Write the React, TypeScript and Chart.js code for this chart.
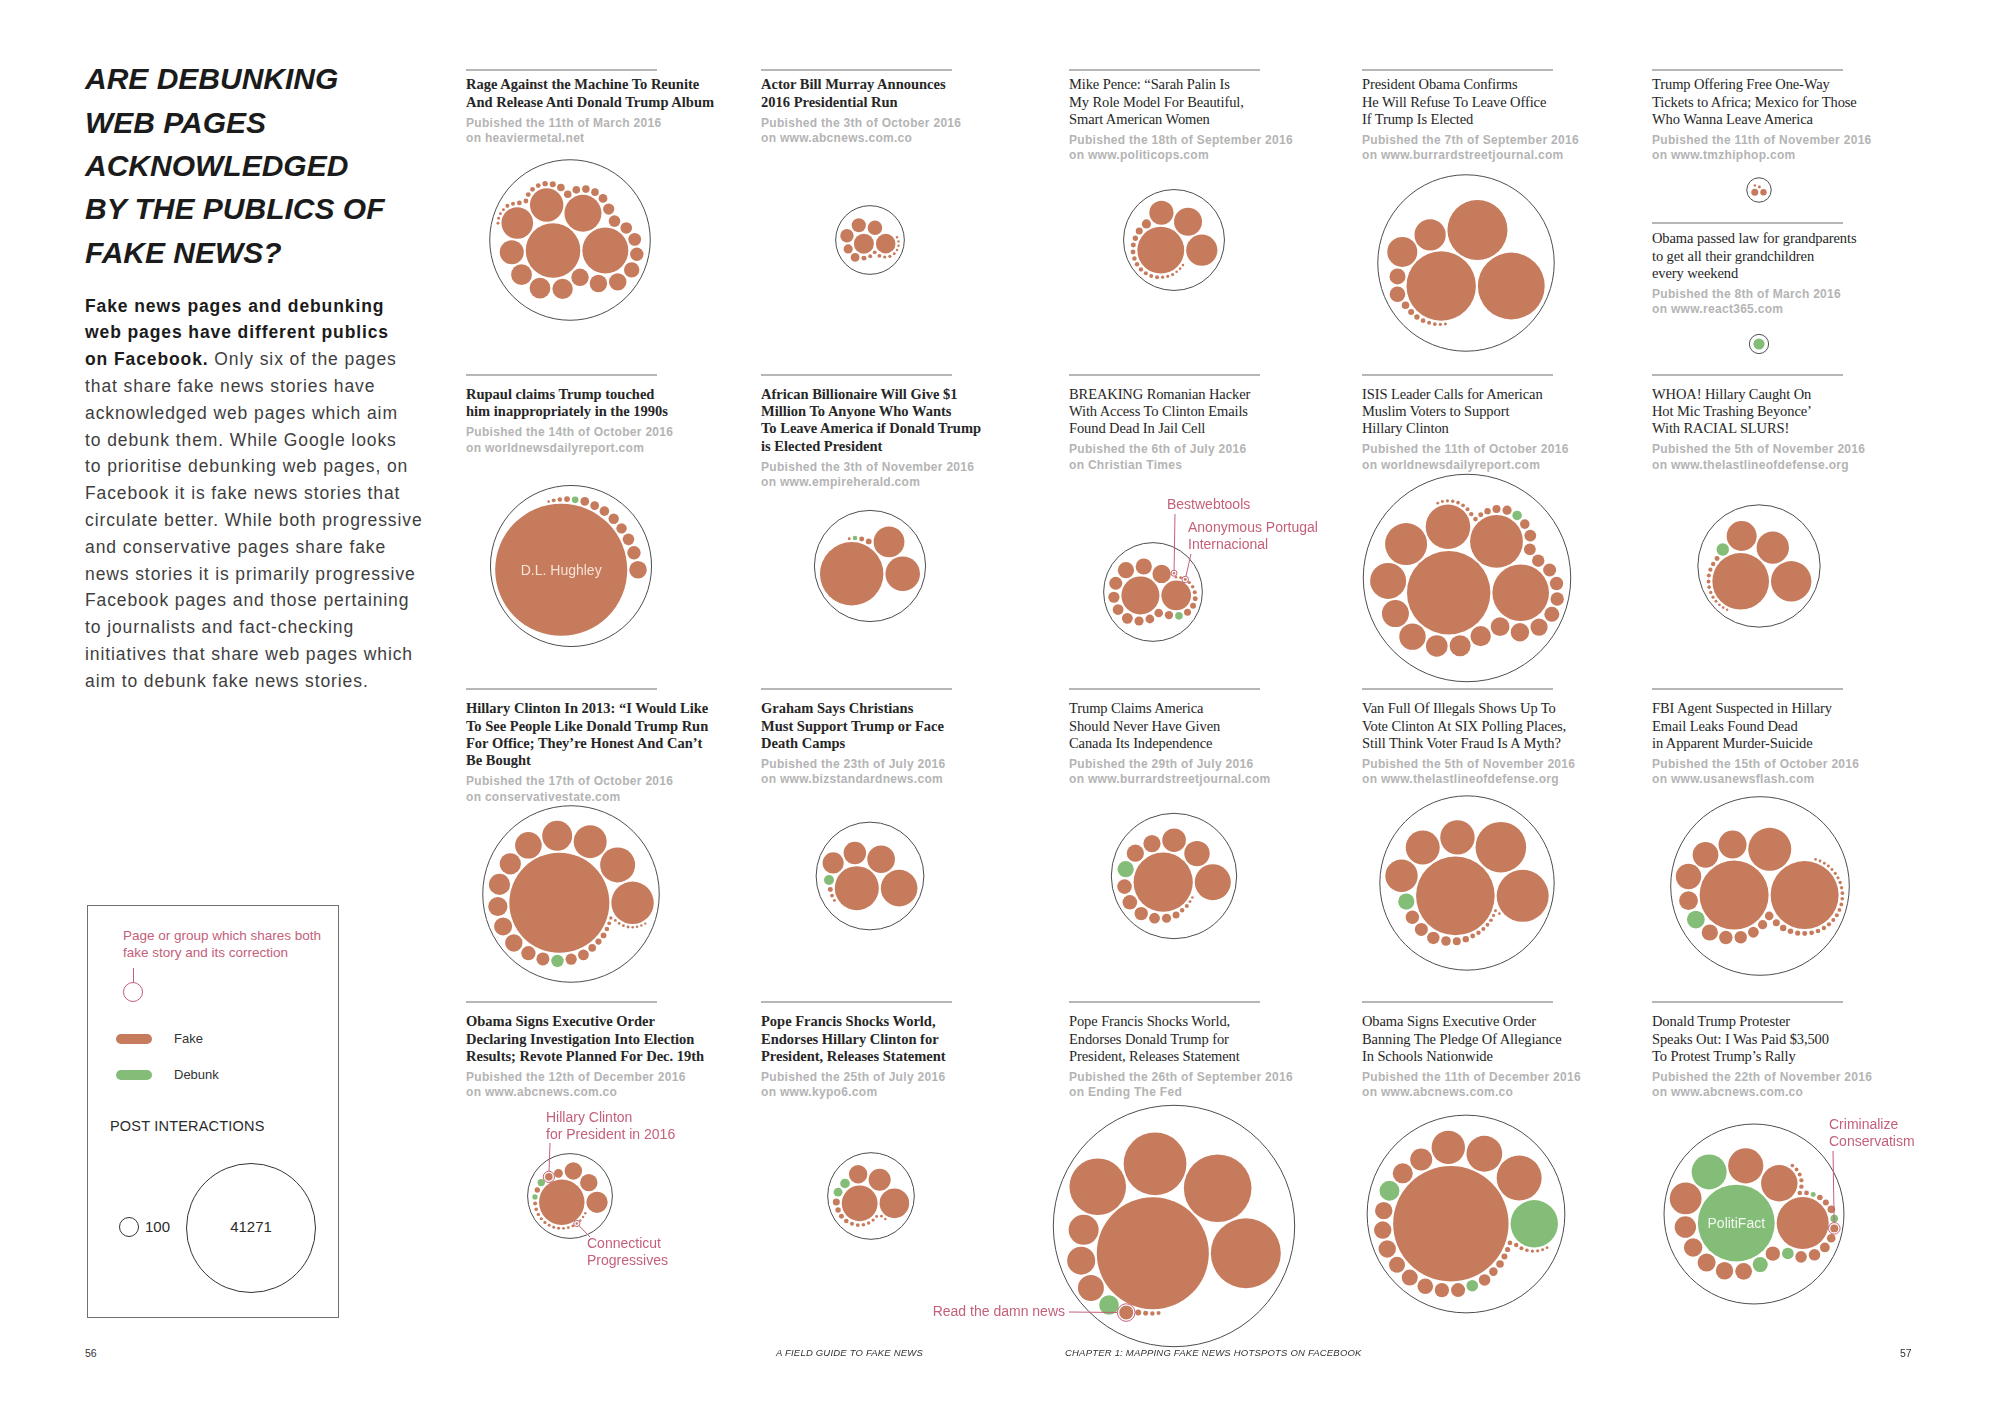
import React, { useEffect, useRef } from 'react';
import { Chart, registerables } from 'chart.js';
Chart.register(...registerables);

// ---------------- DATA: post interactions of each Facebook page / group ----------------
const rageFake = [7058, 5010, 3241, 2641, 2364, 1364, 1024, 1024, 985, 717, 717, 717, 561, 425, 388, 319, 319, 297, 183, 137, 137, 137, 137, 137, 85, 69, 55, 55, 55, 55, 55, 38, 38, 21, 21, 21, 21];
const rageDebunk: number[] = [];
const murrayFake = [947, 910, 505, 477, 425, 200, 183, 59, 38, 34, 34, 24, 24, 21, 14, 14, 14, 14];
const murrayDebunk: number[] = [];
const penceFake = [5185, 2305, 1856, 1386, 200, 116, 69, 59, 55, 46, 46, 46, 38, 38, 38, 24, 24, 24, 16, 16, 16];
const penceDebunk: number[] = [];
const obamaOfficeFake = [11403, 10564, 8523, 2305, 2131, 606, 576, 137, 85, 69, 55, 38, 34, 24, 21];
const obamaOfficeDebunk: number[] = [];
const oneWayFake = [116, 97, 21, 14];
const oneWayDebunk: number[] = [];
const grandparentsFake: number[] = [];
const grandparentsDebunk = [297];
const rupaulFake = [41271, 733, 425, 319, 256, 256, 218, 183, 183, 80, 50, 34, 16];
const rupaulDebunk = [103];
const billionaireFake = [9516, 2834, 2246, 80, 59, 21];
const billionaireDebunk = [50];
const hackerFake = [3419, 2074, 802, 621, 621, 400, 297, 276, 276, 200, 183, 175, 167, 116, 85, 59, 38, 31, 24, 21, 19, 16, 14];
const hackerDebunk = [137];
const isisFake = [16467, 7585, 6600, 4709, 4176, 3068, 1726, 1650, 1105, 1044, 985, 837, 802, 700, 533, 425, 425, 400, 364, 330, 330, 218, 200, 152, 97, 59, 50, 46, 38, 34, 31, 27, 24, 21, 19];
const isisDebunk = [215];
const whoaFake = [7585, 3864, 2485, 2131, 59, 46, 42, 38, 34, 31, 27, 24, 21, 19, 16, 14];
const whoaDebunk = [364];
const clinton2013Fake = [23674, 4256, 2900, 2578, 2131, 1675, 1064, 1064, 873, 767, 717, 477, 400, 297, 276, 137, 91, 80, 50, 34, 27, 19, 19, 19, 19, 14, 14, 14, 14];
const clinton2013Debunk = [364];
const grahamFake = [4584, 3171, 1803, 1188, 1064, 59, 34, 21];
const grahamDebunk = [237];
const canadaFake = [8297, 3068, 1527, 1319, 700, 700, 505, 505, 425, 276, 200, 116, 46, 38, 21, 16];
const canadaDebunk = [621];
const vanFake = [14627, 6402, 6062, 2802, 2737, 2485, 425, 400, 364, 218, 152, 97, 55, 46, 38, 34, 31, 24, 21, 16];
const vanDebunk = [621];
const fbiFake = [11272, 10947, 4378, 1856, 1576, 1527, 837, 621, 425, 364, 276, 200, 175, 116, 97, 74, 64, 59, 55, 50, 46, 42, 38, 38, 34, 34, 31, 31, 27, 27, 24, 24, 21, 21, 19, 19, 16];
const fbiDebunk = [750];
const revoteFake = [4880, 1064, 717, 717, 183, 137, 69, 38, 31, 27, 24, 24, 21, 21, 21, 19, 19, 19, 16, 14, 14, 14];
const revoteDebunk = [130, 66];
const popeHillaryFake = [3034, 2074, 1146, 802, 116, 69, 59, 50, 38, 34, 31, 27, 24, 21, 19, 16];
const popeHillaryDebunk = [218, 183];
const popeTrumpFake = [29697, 11600, 10819, 9337, 7585, 2131, 1856, 1600, 464, 85, 59, 46, 38];
const popeTrumpDebunk = [910];
const pledgeFake = [31528, 4794, 3034, 2641, 1146, 947, 717, 717, 717, 606, 606, 576, 491, 464, 319, 175, 137, 85, 64, 55, 46, 38, 31, 27, 24, 21, 19];
const pledgeDebunk = [5319, 940, 322];
const protesterFake = [6402, 3137, 2933, 2394, 1084, 802, 767, 717, 668, 491, 319, 319, 227, 175, 150, 137, 85, 74, 55, 50, 46, 42, 38, 34, 31];
const protesterDebunk = [13964, 2900, 533, 322, 140, 59];

const legendSmall = 100;
const legendLarge = 41271;

const stories = [
  { id: 'rage', title: ['Rage Against the Machine To Reunite', 'And Release Anti Donald Trump Album'], date: 'Pubished the 11th of March 2016', site: 'on heaviermetal.net', fake: rageFake, debunk: rageDebunk },
  { id: 'murray', title: ['Actor Bill Murray Announces', '2016 Presidential Run'], date: 'Pubished the 3th of October 2016', site: 'on www.abcnews.com.co', fake: murrayFake, debunk: murrayDebunk },
  { id: 'pence', title: ['Mike Pence: “Sarah Palin Is', 'My Role Model For Beautiful,', 'Smart American Women'], date: 'Pubished the 18th of September 2016', site: 'on www.politicops.com', fake: penceFake, debunk: penceDebunk },
  { id: 'obamaOffice', title: ['President Obama Confirms', 'He Will Refuse To Leave Office', 'If Trump Is Elected'], date: 'Pubished the 7th of September 2016', site: 'on www.burrardstreetjournal.com', fake: obamaOfficeFake, debunk: obamaOfficeDebunk },
  { id: 'oneWay', title: ['Trump Offering Free One-Way', 'Tickets to Africa; Mexico for Those', 'Who Wanna Leave America'], date: 'Pubished the 11th of November 2016', site: 'on www.tmzhiphop.com', fake: oneWayFake, debunk: oneWayDebunk },
  { id: 'grandparents', title: ['Obama passed law for grandparents', 'to get all their grandchildren', 'every weekend'], date: 'Pubished the 8th of March 2016', site: 'on www.react365.com', fake: grandparentsFake, debunk: grandparentsDebunk },
  { id: 'rupaul', title: ['Rupaul claims Trump touched', 'him inappropriately in the 1990s'], date: 'Pubished the 14th of October 2016', site: 'on worldnewsdailyreport.com', fake: rupaulFake, debunk: rupaulDebunk },
  { id: 'billionaire', title: ['African Billionaire Will Give $1', 'Million To Anyone Who Wants', 'To Leave America if Donald Trump', 'is Elected President'], date: 'Pubished the 3th of November 2016', site: 'on www.empireherald.com', fake: billionaireFake, debunk: billionaireDebunk },
  { id: 'hacker', title: ['BREAKING Romanian Hacker', 'With Access To Clinton Emails', 'Found Dead In  Jail Cell'], date: 'Pubished the 6th of July 2016', site: 'on Christian Times', fake: hackerFake, debunk: hackerDebunk },
  { id: 'isis', title: ['ISIS Leader Calls for American', 'Muslim Voters to Support', 'Hillary Clinton'], date: 'Pubished the 11th of October 2016', site: 'on worldnewsdailyreport.com', fake: isisFake, debunk: isisDebunk },
  { id: 'whoa', title: ['WHOA! Hillary Caught On', 'Hot Mic Trashing Beyonce’', 'With RACIAL SLURS!'], date: 'Pubished the 5th of November 2016', site: 'on www.thelastlineofdefense.org', fake: whoaFake, debunk: whoaDebunk },
  { id: 'clinton2013', title: ['Hillary Clinton In 2013: “I Would Like', 'To See People Like Donald Trump Run', 'For Office; They’re Honest And Can’t', 'Be Bought'], date: 'Pubished the 17th of October 2016', site: 'on conservativestate.com', fake: clinton2013Fake, debunk: clinton2013Debunk },
  { id: 'graham', title: ['Graham Says Christians', 'Must Support Trump or Face', 'Death Camps'], date: 'Pubished the 23th of July 2016', site: 'on www.bizstandardnews.com', fake: grahamFake, debunk: grahamDebunk },
  { id: 'canada', title: ['Trump Claims America', 'Should Never Have Given', 'Canada Its Independence'], date: 'Pubished the 29th of July 2016', site: 'on www.burrardstreetjournal.com', fake: canadaFake, debunk: canadaDebunk },
  { id: 'van', title: ['Van Full Of Illegals Shows Up To', 'Vote Clinton At SIX Polling Places,', 'Still Think Voter Fraud Is A Myth?'], date: 'Pubished the 5th of November 2016', site: 'on www.thelastlineofdefense.org', fake: vanFake, debunk: vanDebunk },
  { id: 'fbi', title: ['FBI Agent Suspected in Hillary', 'Email Leaks Found Dead', 'in Apparent Murder-Suicide'], date: 'Pubished the 15th of October 2016', site: 'on www.usanewsflash.com', fake: fbiFake, debunk: fbiDebunk },
  { id: 'revote', title: ['Obama Signs Executive Order', 'Declaring Investigation Into Election', 'Results; Revote Planned For Dec. 19th'], date: 'Pubished the 12th of December 2016', site: 'on www.abcnews.com.co', fake: revoteFake, debunk: revoteDebunk },
  { id: 'popeHillary', title: ['Pope Francis Shocks World,', 'Endorses Hillary Clinton for', 'President, Releases Statement'], date: 'Pubished the 25th of July 2016', site: 'on www.kypo6.com', fake: popeHillaryFake, debunk: popeHillaryDebunk },
  { id: 'popeTrump', title: ['Pope Francis Shocks World,', 'Endorses Donald Trump for', 'President, Releases Statement'], date: 'Pubished the 26th of September 2016', site: 'on Ending The Fed', fake: popeTrumpFake, debunk: popeTrumpDebunk },
  { id: 'pledge', title: ['Obama Signs Executive Order', 'Banning The Pledge Of Allegiance', 'In Schools Nationwide'], date: 'Pubished the 11th of December 2016', site: 'on www.abcnews.com.co', fake: pledgeFake, debunk: pledgeDebunk },
  { id: 'protester', title: ['Donald Trump Protester', 'Speaks Out: I Was Paid $3,500', 'To Protest Trump’s Rally'], date: 'Pubished the 22th of November 2016', site: 'on www.abcnews.com.co', fake: protesterFake, debunk: protesterDebunk },
];

// ---------------- LAYOUT (positions / styles only) ----------------
const COLS = [466, 761, 1069, 1362, 1652];
const place: any = {
  rage: { col: 0, lineY: 70, off: 15, cx: 570, cy: 240 },
  murray: { col: 1, lineY: 70, off: 15, cx: 870, cy: 240 },
  pence: { col: 2, lineY: 70, off: 15, cx: 1174, cy: 240 },
  obamaOffice: { col: 3, lineY: 70, off: 15, cx: 1466, cy: 263 },
  oneWay: { col: 4, lineY: 70, off: 15, cx: 1759, cy: 190 },
  grandparents: { col: 4, lineY: 223, off: 16, cx: 1759, cy: 344 },
  rupaul: { col: 0, lineY: 375, off: 19.5, cx: 571, cy: 566 },
  billionaire: { col: 1, lineY: 375, off: 19.5, cx: 870, cy: 566 },
  hacker: { col: 2, lineY: 375, off: 19.5, cx: 1153, cy: 592 },
  isis: { col: 3, lineY: 375, off: 19.5, cx: 1467, cy: 578 },
  whoa: { col: 4, lineY: 375, off: 19.5, cx: 1759, cy: 566 },
  clinton2013: { col: 0, lineY: 689, off: 20, cx: 571, cy: 894 },
  graham: { col: 1, lineY: 689, off: 20, cx: 870, cy: 876 },
  canada: { col: 2, lineY: 689, off: 20, cx: 1174, cy: 876 },
  van: { col: 3, lineY: 689, off: 20, cx: 1467, cy: 883 },
  fbi: { col: 4, lineY: 689, off: 20, cx: 1760, cy: 886 },
  revote: { col: 0, lineY: 1002, off: 20, cx: 570, cy: 1196 },
  popeHillary: { col: 1, lineY: 1002, off: 20, cx: 871, cy: 1196 },
  popeTrump: { col: 2, lineY: 1002, off: 20, cx: 1174, cy: 1226 },
  pledge: { col: 3, lineY: 1002, off: 20, cx: 1466, cy: 1214 },
  protester: { col: 4, lineY: 1002, off: 20, cx: 1754, cy: 1214 },
};

const annotations = [
  { story: 'hacker', kind: 'fake', index: 22, lines: ['Bestwebtools'], left: 1167, top: 496, ax: 1175, ay: 514 },
  { story: 'hacker', kind: 'fake', index: 19, lines: ['Anonymous Portugal', 'Internacional'], left: 1188, top: 519, ax: 1191, ay: 554 },
  { story: 'revote', kind: 'fake', index: 5, lines: ['Hillary Clinton', 'for President in 2016'], left: 546, top: 1109, ax: 550, ay: 1143 },
  { story: 'revote', kind: 'fake', index: 18, lines: ['Connecticut', 'Progressives'], left: 587, top: 1235, ax: 590, ay: 1237 },
  { story: 'popeTrump', kind: 'fake', index: 8, lines: ['Read the damn news'], right: 1065, top: 1303, ax: 1069, ay: 1312 },
  { story: 'protester', kind: 'fake', index: 14, lines: ['Criminalize', 'Conservatism'], left: 1829, top: 1116, ax: 1833, ay: 1151 },
];
const innerLabels = [
  { story: 'rupaul', kind: 'fake', index: 0, text: 'D.L. Hughley', color: '#f7e2d6' },
  { story: 'protester', kind: 'debunk', index: 0, text: 'PolitiFact', color: '#f1f8ee' },
];

const FAKE = '#c67b5c';
const DEBUNK = '#84bd77';
const PINK = '#c4607a';
const SANS = '"Liberation Sans", Arial, Helvetica, sans-serif';
const SERIF = '"Liberation Serif", "Times New Roman", serif';
const K = 0.325; // px per sqrt(interaction)
const GAP = 1;
const RING_PAD = 3;

// ---------------- circle packing (front-chain, spiral) ----------------
function packPlace(a: any, b: any, c: any) {
  const db0 = a.r + c.r;
  const dx = b.x - a.x, dy = b.y - a.y;
  if (db0 && (dx || dy)) {
    const da0 = b.r + c.r;
    const dc = dx * dx + dy * dy;
    const da = da0 * da0, db = db0 * db0;
    const x = 0.5 + (db - da) / (2 * dc);
    const dbm = db - dc;
    const y = Math.sqrt(Math.max(0, 2 * da * (db + dc) - dbm * dbm - da * da)) / (2 * dc);
    c.x = a.x + x * dx + y * dy;
    c.y = a.y + x * dy - y * dx;
  } else {
    c.x = a.x + db0;
    c.y = a.y;
  }
}
function packIntersects(a: any, b: any) {
  const dx = b.x - a.x, dy = b.y - a.y, dr = a.r + b.r;
  return 0.999 * dr * dr > dx * dx + dy * dy;
}
function packInsert(a: any, b: any) {
  const c = a.next;
  a.next = b; b.prev = a; b.next = c; c.prev = b;
}
function packSplice(a: any, b: any) { a.next = b; b.prev = a; }

function packSiblings(nodes: any[]) {
  const n = nodes.length;
  if (!n) return 0;
  let xMin = Infinity, xMax = -Infinity, yMin = Infinity, yMax = -Infinity;
  const bound = (d: any) => {
    xMin = Math.min(d.x - d.r, xMin); xMax = Math.max(d.x + d.r, xMax);
    yMin = Math.min(d.y - d.r, yMin); yMax = Math.max(d.y + d.r, yMax);
  };
  nodes.forEach((d) => { d.next = d; d.prev = d; });
  let a: any = nodes[0], b: any, c: any, j: any, k: any;
  a.x = -a.r; a.y = 0; bound(a);
  if (n > 1) {
    b = nodes[1]; b.x = b.r; b.y = 0; bound(b);
    if (n > 2) {
      c = nodes[2];
      packPlace(a, b, c); bound(c);
      packInsert(a, c); a.prev = c; packInsert(c, b);
      b = a.next;
      for (let i = 3; i < n; i++) {
        c = nodes[i];
        packPlace(a, b, c);
        let isect = 0, s1 = 1, s2 = 1;
        for (j = b.next; j !== b; j = j.next, s1++) {
          if (packIntersects(j, c)) { isect = 1; break; }
        }
        if (isect === 1) {
          for (k = a.prev; k !== j.prev; k = k.prev, s2++) {
            if (packIntersects(k, c)) break;
          }
        }
        if (isect) {
          if (s1 < s2 || (s1 === s2 && b.r < a.r)) { b = j; packSplice(a, b); }
          else { a = k; packSplice(a, b); }
          i--;
        } else {
          packInsert(a, c); b = c; bound(c);
        }
      }
    }
  }
  const cx = (xMin + xMax) / 2, cy = (yMin + yMax) / 2;
  let cr = 0;
  nodes.forEach((d) => {
    d.x -= cx; d.y -= cy;
    cr = Math.max(cr, d.r + Math.sqrt(d.x * d.x + d.y * d.y));
  });
  return cr;
}

function packStory(fake: number[], debunk: number[]) {
  const items: any[] = [];
  fake.forEach((v, i) => items.push({ v, kind: 'fake', idx: i }));
  debunk.forEach((v, i) => items.push({ v, kind: 'debunk', idx: i }));
  items.sort((p, q) => q.v - p.v);
  const nodes = items.map((it) => ({ ...it, x: 0, y: 0, r: K * Math.sqrt(it.v) + GAP }));
  const R = packSiblings(nodes);
  const circles = nodes.map((d) => ({ v: d.v, kind: d.kind, idx: d.idx, x: d.x, y: d.y, r: d.r - GAP }));
  return { circles, R: R + RING_PAD };
}

const packs: any = {};
stories.forEach((s) => { packs[s.id] = packStory(s.fake, s.debunk); });

// ---------------- components ----------------
function PackChart({ story }: { story: any }) {
  const ref = useRef<HTMLCanvasElement | null>(null);
  const pl = place[story.id];
  const pk = packs[story.id];
  const S = 2 * Math.ceil(pk.R + 130);
  const left = pl.cx - S / 2;
  const top = pl.cy - S / 2;
  useEffect(() => {
    if (!ref.current) return;
    const toPt = (c: any) => ({ x: c.x, y: -c.y, r: c.r, idx: c.idx });
    const fakePts = pk.circles.filter((c: any) => c.kind === 'fake').map(toPt);
    const debPts = pk.circles.filter((c: any) => c.kind === 'debunk').map(toPt);
    const myAnn = annotations.filter((a) => a.story === story.id);
    const annPlugin = {
      id: 'annotLeaders',
      afterDatasetsDraw(chart: any) {
        const ctx = chart.ctx;
        myAnn.forEach((a: any) => {
          const dsIndex = a.kind === 'fake' ? 1 : 2;
          const arr = a.kind === 'fake' ? fakePts : debPts;
          const di = arr.findIndex((p: any) => p.idx === a.index);
          const el = chart.getDatasetMeta(dsIndex).data[di];
          if (!el) return;
          const r = arr[di].r + 1.8;
          const ax = a.ax - left, ay = a.ay - top;
          const dx = ax - el.x, dy = ay - el.y;
          const d = Math.sqrt(dx * dx + dy * dy) || 1;
          ctx.save();
          ctx.strokeStyle = PINK;
          ctx.lineWidth = 1;
          ctx.beginPath();
          ctx.arc(el.x, el.y, r, 0, Math.PI * 2);
          ctx.stroke();
          ctx.beginPath();
          ctx.moveTo(el.x + (dx / d) * r, el.y + (dy / d) * r);
          ctx.lineTo(ax, ay);
          ctx.stroke();
          ctx.restore();
        });
      },
    };
    const chart = new Chart(ref.current, {
      type: 'bubble',
      data: {
        datasets: [
          { label: 'Page', data: [{ x: 0, y: 0, r: pk.R }], backgroundColor: 'rgba(0,0,0,0)', borderColor: '#4d4d4d', borderWidth: 1, clip: false } as any,
          { label: 'Fake', data: fakePts, backgroundColor: FAKE, borderWidth: 0, clip: false } as any,
          { label: 'Debunk', data: debPts, backgroundColor: DEBUNK, borderWidth: 0, clip: false } as any,
        ],
      },
      options: {
        animation: false,
        responsive: false,
        maintainAspectRatio: false,
        devicePixelRatio: 1,
        events: [],
        layout: { padding: 0, autoPadding: false },
        plugins: { legend: { display: false }, tooltip: { enabled: false } },
        scales: {
          x: { type: 'linear', min: -S / 2, max: S / 2, display: false, bounds: 'data' },
          y: { type: 'linear', min: -S / 2, max: S / 2, display: false, bounds: 'data' },
        },
      } as any,
      plugins: [annPlugin],
    });
    return () => chart.destroy();
  }, []);
  return (
    <canvas
      ref={ref}
      width={S}
      height={S}
      style={{ position: 'absolute', left, top, width: S, height: S, pointerEvents: 'none' }}
    />
  );
}

function StoryHeader({ story }: { story: any }) {
  const pl = place[story.id];
  const x = COLS[pl.col];
  const bold = pl.col < 2;
  const titleTop = pl.lineY + pl.off - 8.65;
  const pubTop = titleTop + story.title.length * 17.3 + 4.6;
  return (
    <>
      <div style={{ position: 'absolute', left: x, top: pl.lineY - 1, width: 191, height: 2, background: '#b6b6b6' }} />
      <div style={{ position: 'absolute', left: x, top: titleTop, fontFamily: SERIF, fontSize: 14.5, lineHeight: '17.3px', fontWeight: bold ? 700 : 400, color: '#262626', whiteSpace: 'nowrap', letterSpacing: bold ? 0 : -0.1 }}>
        {story.title.map((t: string, i: number) => <div key={i}>{t}</div>)}
      </div>
      <div style={{ position: 'absolute', left: x, top: pubTop, fontFamily: SANS, fontSize: 12, lineHeight: '15.5px', fontWeight: 700, color: '#b4b4b4', whiteSpace: 'nowrap', letterSpacing: 0.3 }}>
        <div>{story.date}</div>
        <div>{story.site}</div>
      </div>
    </>
  );
}

export default function App() {
  const para = { fontFamily: SANS, fontSize: 17.5, lineHeight: '26.8px', letterSpacing: 0.9, color: '#3e3e3e', whiteSpace: 'nowrap' as const };
  const B = ({ children }: any) => <span style={{ fontWeight: 700, color: '#1b1b1b' }}>{children}</span>;
  return (
    <div style={{ position: 'absolute', left: 0, top: 0, width: 1999, height: 1421, overflow: 'hidden', background: '#ffffff' }}>
      {/* Title */}
      <div style={{ position: 'absolute', left: 85, top: 57.4, fontFamily: SANS, fontSize: 30, lineHeight: '43.3px', fontWeight: 700, fontStyle: 'italic', color: '#1b1b1b', whiteSpace: 'nowrap' }}>
        <div>ARE DEBUNKING</div>
        <div>WEB PAGES</div>
        <div>ACKNOWLEDGED</div>
        <div>BY THE PUBLICS OF</div>
        <div>FAKE NEWS?</div>
      </div>
      <div style={{ position: 'absolute', left: 85, top: 292.6, ...para }}>
        <div><B>Fake news pages and debunking</B></div>
        <div><B>web pages have different publics</B></div>
        <div><B>on Facebook.</B> Only six of the pages</div>
        <div>that share fake news stories have</div>
        <div>acknowledged web pages which aim</div>
        <div>to debunk them. While Google looks</div>
        <div>to prioritise debunking web pages, on</div>
        <div>Facebook it is fake news stories that</div>
        <div>circulate better. While both progressive</div>
        <div>and conservative pages share fake</div>
        <div>news stories it is primarily progressive</div>
        <div>Facebook pages and those pertaining</div>
        <div>to journalists and fact-checking</div>
        <div>initiatives that share web pages which</div>
        <div>aim to debunk fake news stories.</div>
      </div>

      {/* Legend */}
      <div style={{ position: 'absolute', left: 87, top: 905, width: 250, height: 411, border: '1px solid #707070' }} />
      <div style={{ position: 'absolute', left: 123, top: 927, fontFamily: SANS, fontSize: 13.5, lineHeight: '17px', color: PINK, whiteSpace: 'nowrap' }}>
        <div>Page or group which shares both</div>
        <div>fake story and its correction</div>
      </div>
      <div style={{ position: 'absolute', left: 133, top: 968, width: 1, height: 14, background: PINK }} />
      <div style={{ position: 'absolute', left: 123, top: 982, width: 18, height: 18, borderRadius: '50%', border: `1px solid ${PINK}` }} />
      <div style={{ position: 'absolute', left: 116, top: 1034, width: 36, height: 10, borderRadius: 5, background: FAKE }} />
      <div style={{ position: 'absolute', left: 174, top: 1031, fontFamily: SANS, fontSize: 13, lineHeight: '16px', color: '#333' }}>Fake</div>
      <div style={{ position: 'absolute', left: 116, top: 1070, width: 36, height: 10, borderRadius: 5, background: DEBUNK }} />
      <div style={{ position: 'absolute', left: 174, top: 1067, fontFamily: SANS, fontSize: 13, lineHeight: '16px', color: '#333' }}>Debunk</div>
      <div style={{ position: 'absolute', left: 110, top: 1117, fontFamily: SANS, fontSize: 14.5, lineHeight: '18px', color: '#2a2a2a', letterSpacing: 0.2, whiteSpace: 'nowrap' }}>POST INTERACTIONS</div>
      <div style={{ position: 'absolute', left: 119, top: 1217, width: 18, height: 18, borderRadius: '50%', border: '1px solid #333' }} />
      <div style={{ position: 'absolute', left: 145, top: 1217, fontFamily: SANS, fontSize: 15, lineHeight: '20px', color: '#2a2a2a' }}>{legendSmall}</div>
      <div style={{ position: 'absolute', left: 186, top: 1163, width: 128, height: 128, borderRadius: '50%', border: '1px solid #333' }} />
      <div style={{ position: 'absolute', left: 186, top: 1217, width: 130, textAlign: 'center', fontFamily: SANS, fontSize: 15, lineHeight: '20px', color: '#2a2a2a' }}>{legendLarge}</div>

      {/* Story headers */}
      {stories.map((s) => <StoryHeader key={s.id} story={s} />)}

      {/* Charts */}
      {stories.map((s) => <PackChart key={s.id} story={s} />)}

      {/* Inner labels */}
      {innerLabels.map((l, i) => {
        const pl = place[l.story];
        const c = packs[l.story].circles.find((q: any) => q.kind === l.kind && q.idx === l.index);
        return (
          <div key={i} style={{ position: 'absolute', left: pl.cx + c.x, top: pl.cy + c.y, transform: 'translate(-50%, -50%)', fontFamily: SANS, fontSize: 14, color: l.color, whiteSpace: 'nowrap', pointerEvents: 'none' }}>{l.text}</div>
        );
      })}

      {/* Annotation labels */}
      {annotations.map((a: any, i) => (
        <div key={i} style={{ position: 'absolute', top: a.top, ...(a.right !== undefined ? { right: 1999 - a.right, textAlign: 'right' as const } : { left: a.left }), fontFamily: SANS, fontSize: 14, lineHeight: '17.3px', color: PINK, whiteSpace: 'nowrap' }}>
          {a.lines.map((t: string, j: number) => <div key={j}>{t}</div>)}
        </div>
      ))}

      {/* Footer */}
      <div style={{ position: 'absolute', left: 85, top: 1347, fontFamily: SANS, fontSize: 10.5, color: '#333' }}>56</div>
      <div style={{ position: 'absolute', left: 776, top: 1347, fontFamily: SANS, fontSize: 9.5, fontStyle: 'italic', color: '#333', whiteSpace: 'nowrap', letterSpacing: 0.2 }}>A FIELD GUIDE TO FAKE NEWS</div>
      <div style={{ position: 'absolute', left: 1065, top: 1347, fontFamily: SANS, fontSize: 9.5, fontStyle: 'italic', color: '#333', whiteSpace: 'nowrap', letterSpacing: 0.2 }}>CHAPTER 1: MAPPING FAKE NEWS HOTSPOTS  ON FACEBOOK</div>
      <div style={{ position: 'absolute', left: 1900, top: 1347, fontFamily: SANS, fontSize: 10.5, color: '#333' }}>57</div>
    </div>
  );
}
